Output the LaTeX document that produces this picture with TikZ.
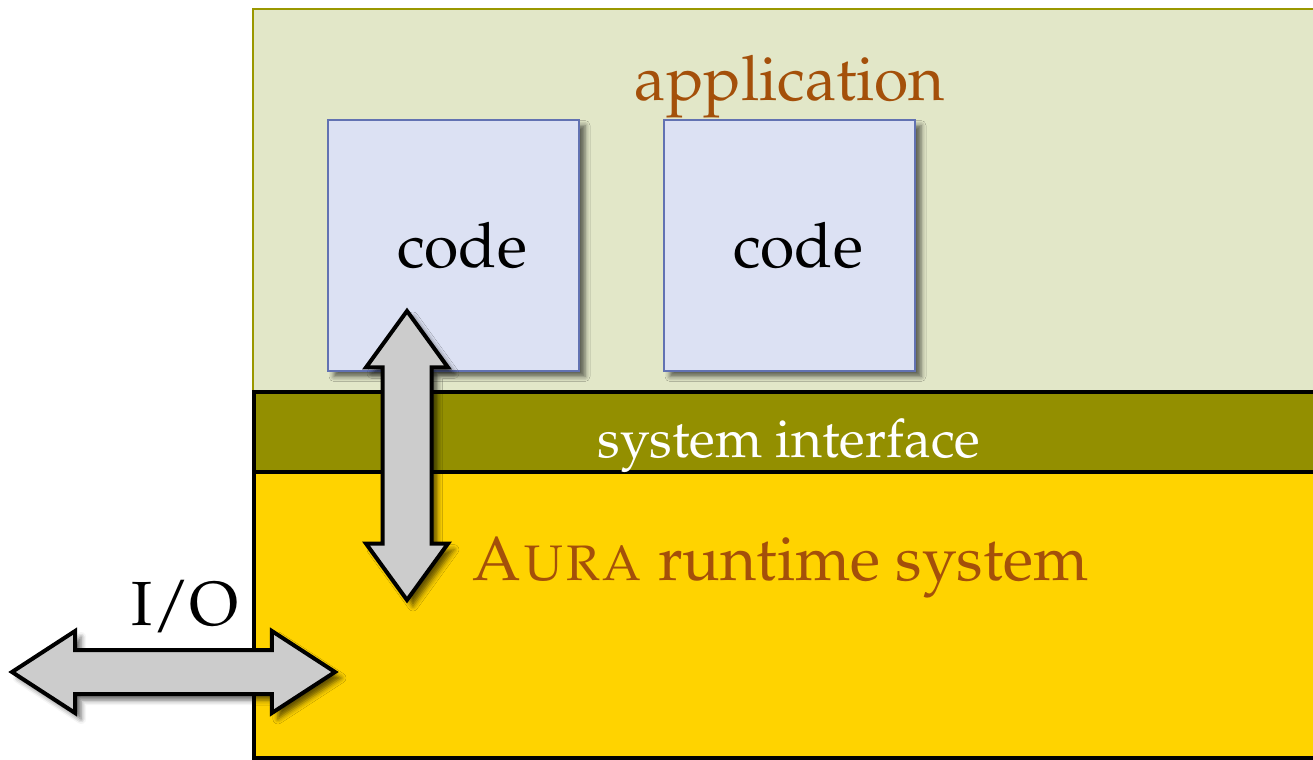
\documentclass[tikz,border=0pt]{standalone}
\usepackage[T1]{fontenc}
\usepackage{mathpazo}
\usetikzlibrary{shapes.arrows, shadows.blur}

\definecolor{appfill}{HTML}{E2E7C8}
\definecolor{appline}{HTML}{9A9800}
\definecolor{sysfill}{HTML}{938F00}
\definecolor{rtfill}{HTML}{FFD300}
\definecolor{codefill}{HTML}{DCE1F3}
\definecolor{codeline}{HTML}{6272B2}
\definecolor{labelbrown}{HTML}{A4500A}
\definecolor{arrowgray}{HTML}{CCCCCC}

\begin{document}
\begin{tikzpicture}[
    x=0.2mm, y=-0.2mm,
    every node/.style={font=\fontsize{35.5}{42}\selectfont},
    applayer/.style={draw=appline, line width=0.3mm, fill=appfill},
    syslayer/.style={draw=black, line width=0.8mm, fill=sysfill},
    rtlayer/.style={draw=black, line width=0.8mm, fill=rtfill},
    codebox/.style={rectangle, draw=codeline, line width=0.4mm, fill=codefill, minimum width=50.2mm, minimum height=50.2mm, blur shadow={shadow xshift=1.2mm, shadow yshift=-1.2mm, shadow blur radius=1mm, shadow opacity=60}},
    fatarrow/.style={double arrow, draw=black, line width=0.8mm, fill=arrowgray, inner xsep=0pt, blur shadow={shadow xshift=1.2mm, shadow yshift=-1.2mm, shadow blur radius=1mm, shadow opacity=60}}
]
\useasboundingbox (0,0) rectangle (1313,760);

% Layers
\draw[applayer] (253,9) rectangle (1340,391);
\node[codebox, text depth=-1.4mm, inner xsep=0pt] (code1) at (453.5,245) {\hspace{3.4mm}code};
\node[codebox, text depth=-1.4mm, inner xsep=0pt] (code2) at (789.5,245) {\hspace{3.4mm}code};
\draw[syslayer] (254,392) rectangle (1340,472);
\draw[rtlayer] (254,472) rectangle (1340,758);

% Labels
\node[text=labelbrown, anchor=base] (applabel) at (790,100) {application};
\node[text=white, font=\fontsize{30.4}{36}\selectfont, anchor=base] (syslabel) at (789,457) {system interface};
\node[text=labelbrown, anchor=base] (rtlabel) at (780,580) {\textsc{Aura} runtime system};
\node[anchor=base] (iolabel) at (185,625) {I/O};

% Arrows
\node[fatarrow, rotate=90, inner ysep=4.5mm, minimum height=57.8mm, double arrow head extend=3.3mm, double arrow tip angle=72] (codearrow) at (407,455.5) {};
\node[fatarrow, inner ysep=4mm, minimum height=64.6mm, double arrow head extend=3.8mm, double arrow tip angle=66] (ioarrow) at (173.5,672) {};

\end{tikzpicture}
\end{document}
